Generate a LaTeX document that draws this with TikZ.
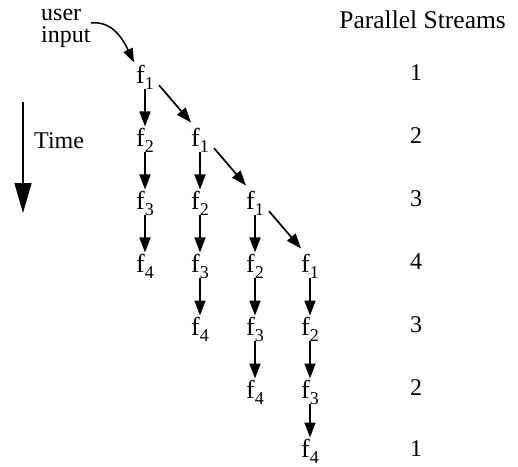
\documentclass[tikz,border=0pt]{standalone}
\usepackage{fontspec}
\setmainfont{Liberation Serif}
\usetikzlibrary{arrows.meta}
\newcommand{\fsub}[1]{f\raisebox{-6pt}{\fontsize{18}{18}\selectfont #1}}
\begin{document}
\begin{tikzpicture}[x=1pt,y=-1pt,
  lbl/.style={font=\fontsize{24}{22}\selectfont, inner sep=0pt},
  fn/.style={font=\fontsize{26}{26}\selectfont, inner sep=0pt, anchor=base west},
  num/.style={lbl, anchor=base},
  arr/.style={line width=1.7pt, -{Triangle[length=15pt,width=11pt]}},
  tarr/.style={line width=1.5pt, -{Triangle[length=30pt,width=17pt]}},
  carr/.style={line width=1.5pt, -{Triangle[length=14pt,width=10pt]}}]
\useasboundingbox (0,0) rectangle (518,466);
% header and labels
\node[lbl, font=\fontsize{25.5}{25.5}\selectfont, anchor=base east] (hdr) at (506,28) {Parallel Streams};
\node[lbl, anchor=base west, align=left] (ui) at (41,42) {user\\input};
\node[lbl, anchor=base west] (time) at (34,148) {Time};
% f nodes: column 1
\node[fn] (a1) at (136,83)  {\fsub{1}};
\node[fn] (a2) at (136,146) {\fsub{2}};
\node[fn] (a3) at (136,209) {\fsub{3}};
\node[fn] (a4) at (136,272) {\fsub{4}};
% column 2
\node[fn] (b1) at (191,146) {\fsub{1}};
\node[fn] (b2) at (191,209) {\fsub{2}};
\node[fn] (b3) at (191,272) {\fsub{3}};
\node[fn] (b4) at (191,335) {\fsub{4}};
% column 3
\node[fn] (c1) at (246,209) {\fsub{1}};
\node[fn] (c2) at (246,272) {\fsub{2}};
\node[fn] (c3) at (246,335) {\fsub{3}};
\node[fn] (c4) at (246,398) {\fsub{4}};
% column 4
\node[fn] (d1) at (301,272) {\fsub{1}};
\node[fn] (d2) at (301,335) {\fsub{2}};
\node[fn] (d3) at (301,398) {\fsub{3}};
\node[fn] (d4) at (301,457) {\fsub{4}};
% stream counts
\node[num] (s1) at (416,80)  {1};
\node[num] (s2) at (416,143) {2};
\node[num] (s3) at (416,206) {3};
\node[num] (s4) at (416,269) {4};
\node[num] (s5) at (416,332) {3};
\node[num] (s6) at (416,395) {2};
\node[num] (s7) at (416,456) {1};
% vertical arrows
\foreach \col in {a,b,c,d}{
  \draw[arr] ([xshift=9pt]\col1.south west) -- ([xshift=9pt,yshift=1pt]\col2.north west);
  \draw[arr] ([xshift=9pt]\col2.south west) -- ([xshift=9pt,yshift=1pt]\col3.north west);
  \draw[arr] ([xshift=9pt]\col3.south west) -- ([xshift=9pt,yshift=1pt]\col4.north west);
}
% diagonal arrows
\draw[arr] ([xshift=5pt,yshift=4pt]a1.south east) -- ([yshift=5pt]b1.north west);
\draw[arr] ([xshift=5pt,yshift=4pt]b1.south east) -- ([yshift=5pt]c1.north west);
\draw[arr] ([xshift=5pt,yshift=4pt]c1.south east) -- ([yshift=5pt]d1.north west);
% time arrow
\coordinate (t0) at (23,102);
\coordinate (t1) at (23,213);
\draw[tarr] (t0) -- (t1);
% user input arrow
\coordinate (uis) at (91,23);
\draw[carr] (uis) .. controls (110,21) and (121,35) .. ([xshift=-2pt,yshift=2pt]a1.north west);
\end{tikzpicture}
\end{document}
